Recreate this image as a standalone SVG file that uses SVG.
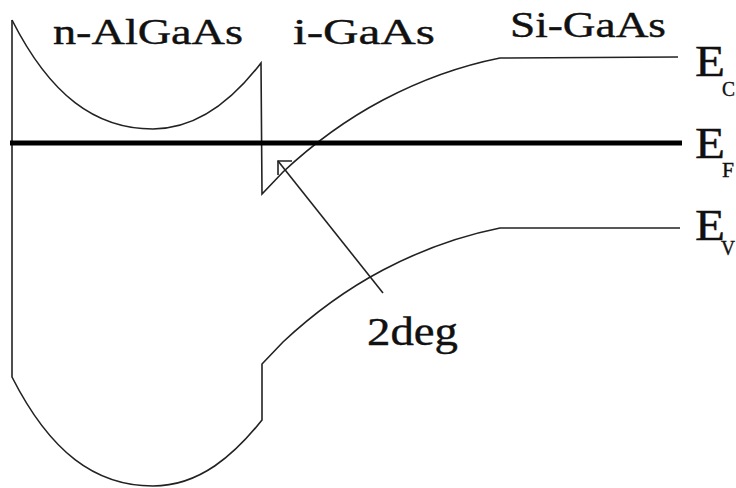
<svg xmlns="http://www.w3.org/2000/svg" width="736" height="488" viewBox="0 0 736 488">
<style>
.band{fill:none;stroke:#222;stroke-width:1.6;stroke-linejoin:miter}
text{font-family:'Liberation Serif','Times New Roman',Times,serif;fill:#111;stroke:#111;stroke-width:0.4}
</style>
<rect width="736" height="488" fill="#fff"/>
<g id="connectors">
<g id="conduction-band">
<path class="band" d="M12,20 C50,95 95,129 153,129 C200,129 235,97 261,63 L262,194 L283,172 Q330,128 383,100 Q440,70 500,58 L678,57"/>
</g>
<g id="valence-band">
<path class="band" d="M12,20 L12,377 C50,452 95,486 153,486 C200,486 235,454 262,420 L262,364 L283,342 Q330,298 383,270 Q440,240 500,228 L680,228"/>
</g>
<g id="fermi-level">
<line x1="10" y1="143" x2="682" y2="143" stroke="#000" stroke-width="5"/>
</g>
<g id="leader-2deg">
<line class="band" x1="278" y1="161" x2="383" y2="293"/>
<polyline class="band" points="292,161 278,161 278,175"/>
</g>
</g>
<g id="label-n-AlGaAs"><text x="53" y="44" font-family="Liberation Serif, serif" font-size="36" textLength="190" lengthAdjust="spacingAndGlyphs">n-AlGaAs</text></g>
<g id="label-i-GaAs"><text x="293" y="44" font-family="Liberation Serif, serif" font-size="36" textLength="142" lengthAdjust="spacingAndGlyphs">i-GaAs</text></g>
<g id="label-Si-GaAs"><text x="510" y="37" font-family="Liberation Serif, serif" font-size="36" textLength="156" lengthAdjust="spacingAndGlyphs">Si-GaAs</text></g>
<g id="label-2deg"><text x="367" y="345" font-family="Liberation Serif, serif" font-size="40" textLength="91" lengthAdjust="spacingAndGlyphs">2deg</text></g>
<g id="label-Ec"><text x="695" y="76" font-family="Liberation Serif, serif" font-size="44" textLength="30" lengthAdjust="spacingAndGlyphs">E</text><text x="722" y="96" font-family="Liberation Serif, serif" font-size="22" textLength="13" lengthAdjust="spacingAndGlyphs">C</text></g>
<g id="label-Ef"><text x="695" y="158" font-family="Liberation Serif, serif" font-size="44" textLength="30" lengthAdjust="spacingAndGlyphs">E</text><text x="722" y="177" font-family="Liberation Serif, serif" font-size="22" textLength="12" lengthAdjust="spacingAndGlyphs">F</text></g>
<g id="label-Ev"><text x="695" y="240" font-family="Liberation Serif, serif" font-size="44" textLength="30" lengthAdjust="spacingAndGlyphs">E</text><text x="721" y="255" font-family="Liberation Serif, serif" font-size="22" textLength="14" lengthAdjust="spacingAndGlyphs">V</text></g>
</svg>
